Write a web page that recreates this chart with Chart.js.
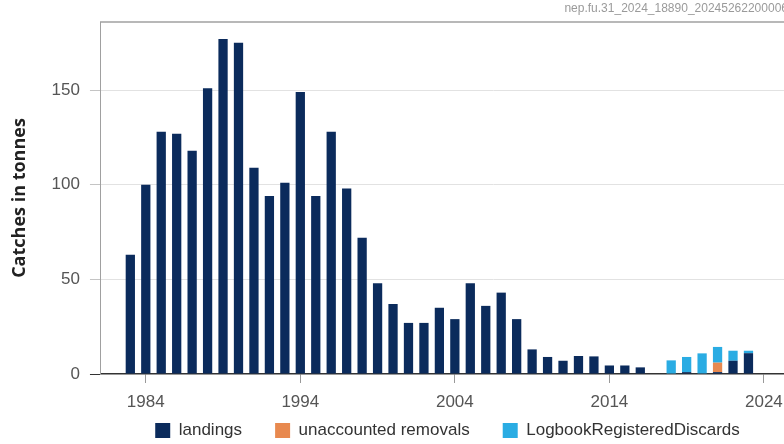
<!DOCTYPE html>
<html>
<head>
<meta charset="utf-8">
<script src="https://cdn.jsdelivr.net/npm/chart.js@4/dist/chart.umd.min.js"></script>
<style>
  html, body { margin: 0; padding: 0; background: #fff; overflow: hidden; }
  #wrap { position: relative; width: 886px; height: 449px; }
  #source {
    position: absolute; top: 1px; right: 98px;
    font: 12px "Liberation Sans", Arial, sans-serif; color: #9a9a9a;
  }
</style>
</head>
<body>
<div id="wrap">
  <canvas id="catchChart" width="886" height="449"></canvas>
  <div id="source">nep.fu.31_2024_18890_20245262200006</div>
</div>
<script>
// years shown on the chart
const years = [
  1983, 1984, 1985, 1986, 1987, 1988, 1989, 1990, 1991, 1992,
  1993, 1994, 1995, 1996, 1997, 1998, 1999, 2000, 2001, 2002,
  2003, 2004, 2005, 2006, 2007, 2008, 2009, 2010, 2011, 2012,
  2013, 2014, 2015, 2016, 2017, 2018, 2019, 2020, 2021, 2022, 2023
];

// catches in tonnes, one value per year (null = nothing reported)
const landings = [
  63, 100, 128, 127, 118, 151, 177, 175, 109, 94,
  101, 149, 94, 128, 98, 72, 48, 37, 27, 27,
  35, 29, 48, 36, 43, 29, 13, 9, 7, 9.5,
  9.3, 4.5, 4.5, 3.5, null, null, 1, 0.3, 1, 7, 11
];
const unaccountedRemovals = [
  null, null, null, null, null, null, null, null, null, null,
  null, null, null, null, null, null, null, null, null, null,
  null, null, null, null, null, null, null, null, null, null,
  null, null, null, null, null, null, null, null, 5, null, null
];
const logbookDiscards = [
  null, null, null, null, null, null, null, null, null, null,
  null, null, null, null, null, null, null, null, null, null,
  null, null, null, null, null, null, null, null, null, null,
  null, null, null, null, null, 7.2, 8, 10.6, 8.3, 5.3, 1.3
];

const xTicks = [1984, 1994, 2004, 2014, 2024];
const yTicks = [0, 50, 100, 150];

const toPoints = (arr) => years.map((yr, i) => ({ x: yr, y: arr[i] }));

const tickFont = { family: "'Liberation Sans', Arial, sans-serif", size: 17 };

const catchChart = new Chart(document.getElementById("catchChart"), {
  type: "bar",
  data: {
    datasets: [
      { label: "landings", data: toPoints(landings), backgroundColor: "#0b2b5c" },
      { label: "unaccounted removals", data: toPoints(unaccountedRemovals), backgroundColor: "#e8894f" },
      { label: "LogbookRegisteredDiscards", data: toPoints(logbookDiscards), backgroundColor: "#2aace3" },
    ],
  },
  options: {
    responsive: false,
    animation: false,
    layout: { padding: { left: 9, top: 22, right: 0, bottom: 0 } },
    datasets: { bar: { categoryPercentage: 1, barPercentage: 0.6 } },
    plugins: {
      tooltip: { enabled: false },
      legend: {
        position: "bottom",
        labels: {
          boxWidth: 15,
          boxHeight: 15,
          padding: 0,
          color: "#333",
          font: tickFont,
          // extra gap between legend entries
          generateLabels: (chart) =>
            Chart.defaults.plugins.legend.labels.generateLabels(chart).map((item, i, all) => {
              if (i < all.length - 1) item.text += "       ";
              item.lineWidth = 0;
              return item;
            }),
        },
      },
    },
    scales: {
      x: {
        type: "linear",
        stacked: true,
        offset: false,
        min: 1981.1,
        max: 2031.9,
        afterBuildTicks: (scale) => {
          scale.ticks = xTicks.map((v) => ({ value: v }));
        },
        ticks: {
          autoSkip: false,
          maxRotation: 0,
          padding: 11,
          color: "#555",
          font: { ...tickFont, lineHeight: 1 },
          callback: (v) => String(v),
        },
        grid: {
          offset: false,
          drawOnChartArea: false,
          drawTicks: true,
          tickLength: 9,
          tickColor: "#999",
        },
        border: { display: true, color: "#333", width: 1.5 },
      },
      x2: {
        type: "linear",
        position: "top",
        min: 1981.1,
        max: 2031.9,
        ticks: { display: false },
        grid: { display: false, drawTicks: false },
        border: { display: true, color: "#b8b8b8", width: 2 },
      },
      y: {
        stacked: true,
        min: 0,
        max: 186,
        afterBuildTicks: (scale) => {
          scale.ticks = yTicks.map((v) => ({ value: v }));
        },
        title: {
          display: true,
          text: "Catches in tonnes",
          color: "#222",
          font: { family: "'Open Sans', sans-serif", size: 18, weight: "bold" },
          padding: { top: 0, bottom: 11 },
        },
        ticks: { padding: 10, color: "#555", font: tickFont },
        grid: {
          color: (ctx) => (ctx.tick && ctx.tick.value === 0 ? "rgba(0,0,0,0)" : "#e2e2e2"),
          tickColor: (ctx) => (ctx.tick && ctx.tick.value === 0 ? "#333" : "#c4c4c4"),
          tickLength: 11,
        },
        border: { display: true, color: "#a0a0a0", width: 1 },
      },
    },
  },
});
</script>
</body>
</html>
